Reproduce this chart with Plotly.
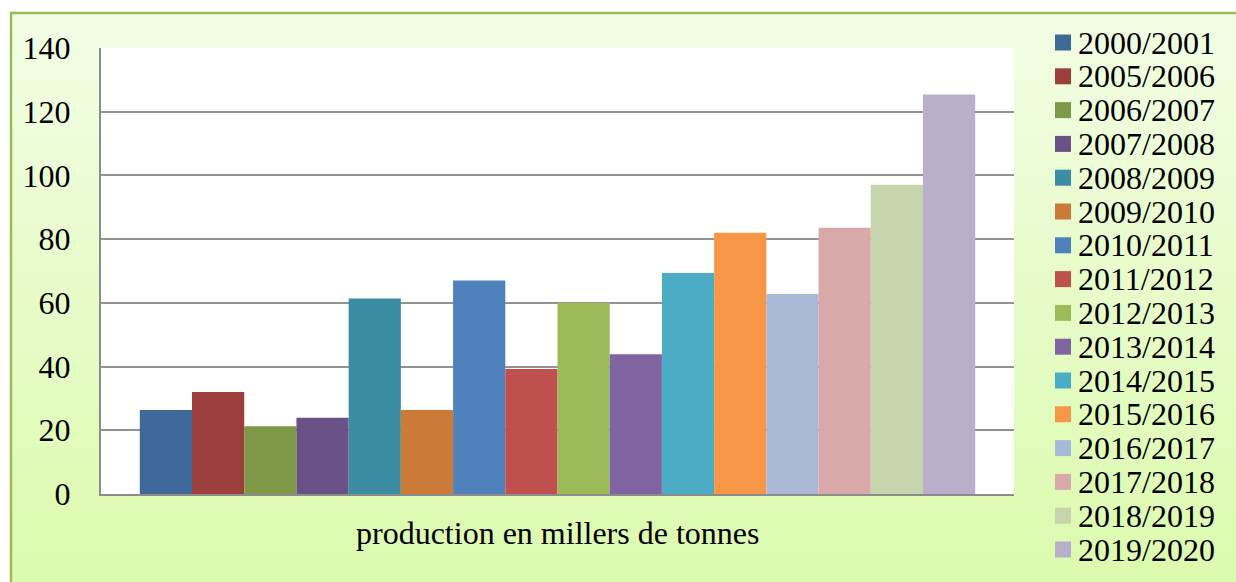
import plotly.graph_objects as go

seasons = ["2000/2001", "2005/2006", "2006/2007", "2007/2008", "2008/2009", "2009/2010",
           "2010/2011", "2011/2012", "2012/2013", "2013/2014", "2014/2015", "2015/2016",
           "2016/2017", "2017/2018", "2018/2019", "2019/2020"]
production = [26.4, 32.0, 21.3, 23.9, 61.4, 26.4, 67.0, 39.2, 60.0, 43.9, 69.4, 82.0,
              62.8, 83.6, 97.1, 125.4]
bar_colors = ["#3E6999", "#9D403D", "#7E9A48", "#6A5186", "#3C8DA3", "#CB7A37",
              "#4F81BD", "#C0504D", "#9BBB59", "#8064A2", "#4BACC6", "#F79646",
              "#AAB9D6", "#D9A9A9", "#C6D4AB", "#B9AFCA"]
category = ["production en millers de tonnes"]
y_ticks = [0, 20, 40, 60, 80, 100, 120, 140]

W, H = 1236, 582
L, R, T, B = 101, 1014, 48, 494
PW, PH = R - L, B - T
FONT = "'Liberation Serif', 'Times New Roman', 'DejaVu Serif', serif"


def px_x(px):
    return (px - L) / PW


def px_y(py):
    return (B - py) / PH


fig = go.Figure()
for name, val, col in zip(seasons, production, bar_colors):
    fig.add_trace(go.Bar(x=category, y=[val], name=name, marker_color=col,
                         marker_line_width=0, showlegend=False))

shapes = []
# gradient background (light green)
top_c = (242, 253, 228)
bot_c = (219, 251, 172)
n = 60
y_start, y_end = 13, 600
for i in range(n):
    t = i / (n - 1)
    c = tuple(round(a + (b - a) * t) for a, b in zip(top_c, bot_c))
    y0 = y_start + (y_end - y_start) * i / n
    y1 = y_start + (y_end - y_start) * (i + 1) / n + 1
    shapes.append(dict(type="rect", xref="paper", yref="paper", layer="below",
                       x0=px_x(11), x1=px_x(1260), y0=px_y(y0), y1=px_y(y1),
                       line_width=0, fillcolor="rgb(%d,%d,%d)" % c))
# white plot area
shapes.append(dict(type="rect", xref="paper", yref="paper", layer="below",
                   x0=0, x1=1, y0=0, y1=1, line_width=0, fillcolor="white"))
# frame
shapes.append(dict(type="rect", xref="paper", yref="paper", layer="below",
                   x0=px_x(11), x1=px_x(1300), y0=px_y(13), y1=px_y(700),
                   line=dict(color="#9BBB59", width=2.5), fillcolor="rgba(0,0,0,0)"))

annotations = []
row0, step = 42.5, 33.8
for i, (name, col) in enumerate(zip(seasons, bar_colors)):
    cy = row0 + i * step
    shapes.append(dict(type="rect", xref="paper", yref="paper", layer="above",
                       x0=px_x(1055), x1=px_x(1071), y0=px_y(cy - 8), y1=px_y(cy + 8),
                       line_width=0, fillcolor=col))
    annotations.append(dict(text=name, xref="paper", yref="paper", x=px_x(1076),
                            y=px_y(cy), xanchor="left", yanchor="middle",
                            showarrow=False, font=dict(family=FONT, size=32, color="black")))

annotations.append(dict(text=category[0], xref="paper", yref="paper", x=0.5,
                        y=px_y(533), xanchor="center", yanchor="middle", showarrow=False,
                        font=dict(family=FONT, size=32, color="black")))

fig.update_layout(
    width=W, height=H,
    margin=dict(l=L, r=W - R, t=T, b=H - B, pad=0),
    paper_bgcolor="white", plot_bgcolor="white",
    barmode="group", bargap=0.085, bargroupgap=0,
    showlegend=False,
    shapes=shapes, annotations=annotations,
    font=dict(family=FONT, color="black"),
    xaxis=dict(showticklabels=False, showgrid=False, showline=True,
               linecolor="#8C8C8C", linewidth=2, ticks="", fixedrange=True),
    yaxis=dict(range=[0, 140], tickvals=y_ticks, showgrid=True, gridcolor="#929292",
               gridwidth=2, showline=True, linecolor="#8C8C8C", linewidth=2,
               ticks="", ticklabelstandoff=22, zeroline=False,
               tickfont=dict(family=FONT, size=32, color="black")),
)

fig.write_html("out.html")
